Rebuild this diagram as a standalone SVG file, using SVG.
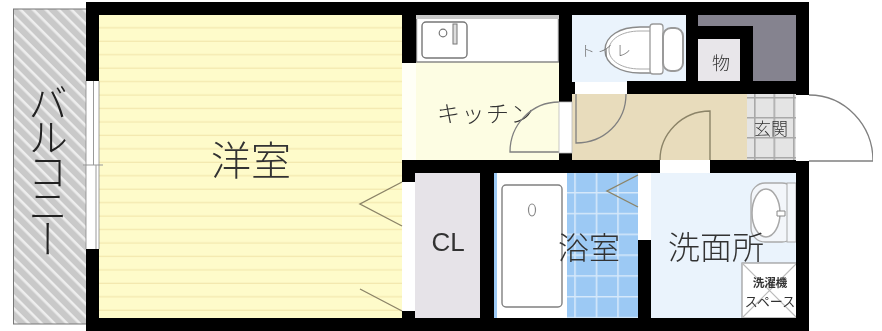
<svg xmlns="http://www.w3.org/2000/svg" width="882" height="331" viewBox="0 0 882 331">
<style>
.t{font-family:"Noto Sans CJK JP","Noto Sans",sans-serif;fill:#333;text-anchor:middle;font-weight:300}
.w{fill:#000}
.o{fill:#fff}
.l{fill:none;stroke:#808080;stroke-width:1.3}
.d{fill:none;stroke:#8c8468;stroke-width:1.4}
</style>
<defs>
<filter id="soft" x="0" y="0" width="100%" height="100%"><feGaussianBlur stdDeviation="0.35"/></filter>
<pattern id="hatch" width="9" height="9" patternUnits="userSpaceOnUse" patternTransform="rotate(45)">
<rect width="9" height="9" fill="#c9c9c9"/><rect width="9" height="2.6" y="0" fill="#eeeeee"/>
</pattern>
<pattern id="floor" width="13.45" height="13.45" y="15" patternUnits="userSpaceOnUse">
<rect width="13.45" height="13.45" fill="#fefbca"/><rect width="14" height="1.2" y="12.2" fill="#f3e8ae"/>
</pattern>
<pattern id="tile" width="21.5" height="20.8" x="574.200" y="192" patternUnits="userSpaceOnUse">
<rect width="21.5" height="20.8" fill="#9cc9f4"/><path d="M0 .8H21.500M.8 0V20.800" stroke="#d5e8fa" stroke-width="1.600" fill="none"/>
</pattern>
<pattern id="gtile" width="19.500" height="20" x="754" y="117" patternUnits="userSpaceOnUse">
<rect width="19.500" height="20" fill="#e4e4e4"/><path d="M0 .8H19.500M.8 0V20" stroke="#a9a9a9" stroke-width="1.600" fill="none"/>
</pattern>
</defs>
<g filter="url(#soft)">
<g id="balcony">
<rect x="13.500" y="9" width="73" height="315" fill="url(#hatch)" stroke="#777" stroke-width="1"/>
<text class="t" font-size="40" x="48" y="83" style="writing-mode:vertical-rl;letter-spacing:-6px;text-anchor:start;fill:#222">バルコニー</text>
</g>
<g id="room">
<rect x="99" y="15" width="304" height="303" fill="url(#floor)"/>
<text class="t" font-size="40" x="251" y="175">洋室</text>
</g>
<g id="kitchen">
<rect x="403" y="15" width="157" height="146" fill="#fdfde3"/>
<rect x="402" y="63" width="14" height="98" fill="#fffff6"/>
<rect x="416.500" y="18" width="142" height="44" fill="#fff" stroke="#808080" stroke-width="1.400"/>
<rect x="416" y="15" width="143" height="4" fill="#c9c9c9"/>
<rect x="422" y="22" width="45" height="36" rx="4" fill="#fff" stroke="#777" stroke-width="1.400"/>
<circle cx="443" cy="33" r="3.800" fill="none" stroke="#777" stroke-width="1.200"/>
<rect x="453" y="24" width="4" height="20" fill="#ddd" stroke="#777" stroke-width="1"/>
<text class="t" font-size="23" x="486" y="122" letter-spacing="1.500">キッチン</text>
<path class="l" d="M559 102A49 50 0 0 0 510 152H559"/>
</g>
<g id="toilet">
<rect x="572" y="15" width="114" height="67" fill="#eaf3fc"/>
<path d="M652 27H640C620 27 605 36 605 50C605 64 620 73 640 73H652Z" fill="#fff" stroke="#8a8a8a" stroke-width="1.400"/>
<path d="M651 31H640C622 31 609 39 609 50C609 61 622 69 640 69H651" fill="none" stroke="#aaa" stroke-width="1"/>
<rect x="650" y="24" width="13" height="50" rx="3" fill="#fff" stroke="#9a9a9a" stroke-width="1.300"/>
<rect x="663" y="28" width="20" height="43" rx="8" fill="#fff" stroke="#9a9a9a" stroke-width="2"/>
<text class="t" font-size="15" x="607" y="56" letter-spacing="3" style="fill:#777">トイレ</text>
</g>
<g id="storage">
<rect x="698" y="15" width="98" height="66" fill="#85838f"/>
<rect x="698" y="39" width="42" height="42" fill="#e8e6ea"/>
<text class="t" font-size="18" x="721" y="70">物</text>
</g>
<g id="entry">
<rect x="572" y="94" width="175" height="66" fill="#e8dcbc"/>
<path class="l" d="M626 94C626 122 604 143 576 143V94"/>
<path class="d" d="M710 160V111C682 111 660 134 660 160"/>
</g>
<g id="genkan">
<rect x="747" y="94" width="49" height="66" fill="url(#gtile)"/>
<text class="t" font-size="17" x="771" y="135">玄関</text>
<path class="l" d="M809 95C845 95 873 125 873 161H809"/>
</g>
<g id="closet">
<rect x="415" y="173" width="65" height="145" fill="#e6e3e8"/>
<text x="448" y="251" font-family="Liberation Sans,sans-serif" font-size="26" fill="#333" text-anchor="middle">CL</text>
</g>
<g id="bath">
<rect x="494" y="173" width="73" height="145" fill="#fff"/>
<rect x="494" y="173" width="3" height="145" fill="#9cc9f4"/>
<rect x="567" y="173" width="71" height="145" fill="url(#tile)"/>
<rect x="502" y="185" width="60" height="122" rx="4" fill="#fff" stroke="#808080" stroke-width="1.400"/>
<ellipse cx="532" cy="210" rx="3.500" ry="6" fill="none" stroke="#888" stroke-width="1.200"/>
<text class="t" font-size="31" x="589" y="259">浴室</text>
</g>
<g id="washroom">
<rect x="651" y="173" width="145" height="145" fill="#eaf3fc"/>
<rect x="751" y="183" width="45" height="59" rx="14" fill="#f3f6fa" stroke="#aaa" stroke-width="1.300"/>
<rect x="787" y="183" width="9" height="59" fill="#f3f6fa" stroke="#aaa" stroke-width="1"/>
<ellipse cx="766" cy="213" rx="14" ry="24" fill="#fff" stroke="#a8a8a8" stroke-width="1.500"/>
<path d="M777 211h8v5h-8z" fill="#fff" stroke="#888" stroke-width="1"/>
<text class="t" font-size="32" x="716" y="259">洗面所</text>
<rect x="742" y="263" width="55" height="55" fill="#fff" stroke="#999" stroke-width="1.200"/>
<path d="M742 263L797 318M797 263L742 318" stroke="#bbb" stroke-width="1.200"/>
<text class="t" font-size="11.500" x="770" y="287" style="font-weight:700">洗濯機</text>
<text class="t" font-size="13" x="770" y="306" style="font-weight:400">スペース</text>
</g>
<g id="walls">
<rect class="w" x="86" y="2" width="723" height="13"/>
<rect class="w" x="86" y="318" width="723" height="13"/>
<rect class="w" x="86" y="2" width="13" height="79"/>
<rect class="w" x="86" y="249" width="13" height="82"/>
<rect class="w" x="402" y="2" width="14" height="61"/>
<rect class="w" x="402" y="160" width="407" height="13"/>
<rect class="w" x="402" y="173" width="13" height="9"/>
<rect class="w" x="402" y="311" width="13" height="7"/>
<rect class="w" x="480" y="173" width="14" height="158"/>
<rect class="w" x="559" y="2" width="13" height="100"/>
<rect class="w" x="559" y="153" width="13" height="20"/>
<rect class="w" x="572" y="82" width="3" height="12"/>
<rect class="w" x="686" y="2" width="12" height="92"/>
<rect class="w" x="627" y="81" width="182" height="13"/>
<rect class="w" x="698" y="26" width="55" height="13"/>
<rect class="w" x="740" y="26" width="13" height="68"/>
<rect class="w" x="796" y="2" width="13" height="93"/>
<rect class="w" x="796" y="161" width="13" height="170"/>
<rect class="w" x="638" y="240" width="13" height="91"/>
</g>
<g id="openings">
<rect class="o" x="86" y="81" width="13" height="168"/>
<path d="M93.500 81V165M96 165V249M83 165H103" stroke="#999" stroke-width="1" fill="none"/>
<path d="M86 81V249M99 81V249" stroke="#888" stroke-width=".8" fill="none"/>
<rect class="o" x="402" y="182" width="13" height="129"/>
<rect class="o" x="559" y="102" width="13" height="51" stroke="#bbb" stroke-width=".8"/>
<rect class="o" x="575" y="82" width="52" height="12"/>
<rect class="o" x="660" y="160" width="50" height="13"/>
<rect class="o" x="796" y="95" width="13" height="66"/>
<rect class="o" x="638" y="175" width="13" height="65"/>
</g>
<g id="connectors">
<path d="M402 182L360 204L402 226M360 289L402 311" fill="none" stroke="#8c8468" stroke-width="1.400"/>
<path d="M638 175L607 191L638 207" fill="none" stroke="#8c8468" stroke-width="1.400"/>
</g>
</g>
</svg>
